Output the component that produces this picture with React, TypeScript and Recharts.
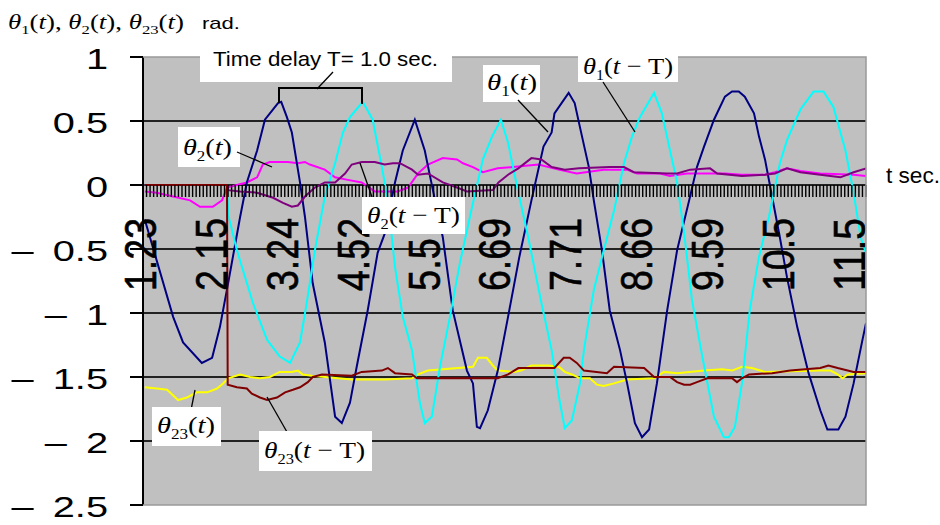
import { LineChart, Line, XAxis, YAxis, CartesianGrid } from "recharts";

// category axis labels (every 20th sample) and y ticks
const timeLabels = ["1.23", "2.15", "3.24", "4.52", "5.5", "6.69", "7.71", "8.66", "9.59", "10.5", "11.5"];
const yTicks = [1, 0.5, 0, -0.5, -1, -1.5, -2, -2.5];
const gridValues = [0.5, 0, -0.5, -1, -1.5, -2];

// [sample index, rad]
const theta1: [number, number][] = [
  [0, -0.27], [8, -1.03], [10.8, -1.23], [16.1, -1.39], [19, -1.35], [21.2, -1.11], [23.5, -0.77], [26.9, -0.25],
  [28.8, 0.02], [31.7, 0.27], [33.9, 0.51], [37.6, 0.64], [38.5, 0.65], [40.1, 0.53], [41.5, 0.41], [43.8, 0.02],
  [45.2, -0.25], [47.4, -0.77], [50.8, -1.23], [53.7, -1.81], [55.6, -1.86], [57.9, -1.7], [59.8, -1.42], [62.9, -0.98],
  [65.7, -0.53], [67.7, -0.38], [70.6, 0.02], [72.8, 0.27], [76.2, 0.51], [79, 0.27], [81.3, -0.04], [84.1, -0.41],
  [86.9, -0.98], [90.9, -1.45], [92.6, -1.55], [93.7, -1.89], [94.6, -1.9], [96.8, -1.76], [99.6, -1.45], [102.5, -1.03],
  [105.7, -0.56], [109.1, -0.12], [112.5, 0.3], [114.8, 0.41], [115.6, 0.56], [119.6, 0.72], [121.3, 0.64], [122.8, 0.45],
  [125.3, 0.14], [126.7, -0.12], [129, -0.51], [131.2, -0.98], [134.1, -1.29], [136.1, -1.55], [138.3, -1.86], [140.3, -1.97],
  [142.3, -1.91], [144.5, -1.55], [147.4, -0.98], [150.2, -0.51], [153.6, -0.12], [155.8, 0.14], [157.8, 0.3], [160.6, 0.51],
  [163.7, 0.69], [165.7, 0.73], [167.6, 0.73], [169.3, 0.69], [171.9, 0.56], [173.3, 0.38], [175, 0.2], [177, -0.09],
  [179.2, -0.41], [181.2, -0.72], [184.1, -1.11], [187.3, -1.47], [190.6, -1.76], [192.6, -1.91], [195.7, -1.91], [197.7, -1.81],
  [200, -1.55], [202.5, -1.21], [203.5, -1.08],
];

const theta1T: [number, number][] = [
  [0, 0], [23.2, 0], [23.6, -0.24], [26, -0.51], [30.5, -0.92], [34.5, -1.21], [38.1, -1.34], [41, -1.39],
  [43.8, -1.23], [45.7, -0.92], [48, -0.51], [50.8, -0.09], [53.7, 0.17], [55.9, 0.41], [57.9, 0.53], [61.5, 0.65],
  [64.3, 0.51], [66.9, 0.14], [68.6, -0.12], [70.6, -0.64], [72.8, -1.03], [75.4, -1.29], [77.6, -1.7], [79, -1.86],
  [81, -1.81], [83.3, -1.42], [86.1, -1.03], [88.9, -0.61], [92.6, -0.14], [95.4, 0.2], [98, 0.38], [100.5, 0.51],
  [102.5, 0.33], [104.8, 0.02], [108.2, -0.41], [111.9, -0.92], [114.8, -1.29], [117, -1.68], [118.5, -1.9], [120.5, -1.84],
  [122.8, -1.55], [123.9, -1.29], [126.7, -0.82], [129.5, -0.51], [132.4, -0.2], [135.2, 0.17], [137.5, 0.38], [139.7, 0.53],
  [143.7, 0.72], [145.9, 0.56], [148.2, 0.27], [150.2, 0.02], [152.2, -0.38], [154.4, -0.9], [157.3, -1.34], [160.6, -1.81],
  [163.4, -1.97], [164.8, -1.97], [166.5, -1.89], [168.5, -1.55], [170.7, -0.98], [173.3, -0.56], [176.1, -0.25], [179.2, 0.17],
  [181.2, 0.35], [185, 0.59], [188.7, 0.73], [191.5, 0.73], [194.3, 0.61], [197.7, 0.27], [200, -0.06], [202, -0.41],
  [203.5, -0.53],
];

const theta2: [number, number][] = [
  [0, -0.05], [3.4, -0.06], [8, -0.09], [12.8, -0.12], [15.6, -0.17], [19.2, -0.17], [21.8, -0.12], [23.2, -0.02],
  [26, 0], [28.8, 0.02], [31.7, 0.06], [33.3, 0.16], [35.3, 0.18], [40.4, 0.18], [43.2, 0.17], [45.2, 0.18],
  [46.6, 0.16], [50.8, 0.12], [53.7, 0.06], [57.3, 0.04], [61.2, 0.02], [64.9, -0.05], [71.4, -0.05], [74.3, -0.02],
  [77.1, 0.09], [79.9, 0.16], [84.1, 0.21], [88.1, 0.2], [89.8, 0.17], [92.6, 0.14], [95.4, 0.1], [99.6, 0.13],
  [111.1, 0.16], [116.8, 0.12], [121.9, 0.09], [129.5, 0.12], [136.1, 0.12], [138.9, 0.09], [145.4, 0.09], [148.2, 0.07],
  [153, 0.09], [163.7, 0.09], [168.5, 0.08], [175, 0.08], [177.8, 0.1], [181.2, 0.13], [185, 0.11], [190.6, 0.09],
  [200, 0.08], [203.5, 0.07],
];

const theta2T: [number, number][] = [
  [0, 0], [23.2, 0], [23.5, -0.04], [26.9, -0.05], [31.7, -0.06], [36.2, -0.1], [39, -0.14], [41.5, -0.17],
  [43.2, -0.16], [45.2, -0.09], [48, -0.02], [50.8, 0.02], [53.7, 0.02], [56.5, 0.09], [58.4, 0.16], [61.2, 0.18],
  [64.9, 0.18], [67.7, 0.16], [70, 0.17], [72, 0.17], [75.4, 0.12], [77.1, 0.08], [79.9, 0.09], [84.1, 0.02],
  [88.1, -0.02], [90.9, -0.05], [98.2, -0.04], [99.8, 0.02], [102.5, 0.08], [105.4, 0.13], [109.1, 0.21], [111.9, 0.2],
  [114.8, 0.14], [118.5, 0.12], [122.5, 0.13], [131.2, 0.14], [135.2, 0.14], [138, 0.1], [147.4, 0.09], [150.2, 0.09],
  [153.9, 0.12], [159.5, 0.13], [161.5, 0.09], [168.5, 0.07], [175, 0.08], [177.8, 0.09], [181.2, 0.13], [185, 0.1],
  [190.6, 0.08], [196.3, 0.06], [200, 0.1], [203.5, 0.13],
];

const theta23: [number, number][] = [
  [0, -1.58], [3.4, -1.59], [6.3, -1.6], [9.4, -1.68], [11.9, -1.66], [14.7, -1.62], [17.6, -1.62], [20.4, -1.59],
  [22.1, -1.55], [23.5, -1.51], [26.9, -1.48], [29.7, -1.5], [32.5, -1.51], [35.3, -1.5], [38.1, -1.46], [41.5, -1.46],
  [43.2, -1.45], [44.6, -1.48], [47.1, -1.49], [58.4, -1.52], [67.7, -1.52], [75.4, -1.51], [77.1, -1.48], [79.9, -1.45],
  [92.6, -1.42], [94, -1.35], [96.5, -1.35], [98.2, -1.41], [99.6, -1.45], [104.2, -1.46], [106.2, -1.45], [109.1, -1.41],
  [113.9, -1.41], [116.8, -1.42], [118.5, -1.46], [120.5, -1.48], [122.8, -1.51], [125.6, -1.51], [127.6, -1.56], [129.5, -1.57],
  [132.4, -1.55], [136.1, -1.52], [143.7, -1.51], [146.5, -1.46], [150.2, -1.47], [157.8, -1.45], [162.9, -1.44], [165.7, -1.45],
  [168.5, -1.42], [171.3, -1.43], [175, -1.46], [190.6, -1.45], [193.5, -1.45], [195.5, -1.48], [196.9, -1.51], [198.3, -1.48],
  [203.5, -1.47],
];

const theta23T: [number, number][] = [
  [0, 0], [23.2, 0], [23.4, -1.56], [26, -1.58], [28.8, -1.59], [30.2, -1.63], [32.5, -1.66], [34.5, -1.68],
  [37.3, -1.66], [39.6, -1.62], [41.8, -1.6], [43.8, -1.58], [46, -1.54], [47.4, -1.5], [50, -1.48], [58.4, -1.49],
  [61.2, -1.46], [66.9, -1.45], [68.6, -1.43], [70.6, -1.47], [75.4, -1.48], [76.8, -1.51], [99.6, -1.51], [102.5, -1.48],
  [105.4, -1.43], [115.6, -1.43], [118.2, -1.35], [119.9, -1.35], [121.9, -1.39], [123.9, -1.45], [130.4, -1.47], [132.4, -1.42],
  [140.9, -1.43], [143.7, -1.5], [148.2, -1.5], [150.2, -1.54], [152.2, -1.56], [153.9, -1.56], [155.8, -1.54], [158.7, -1.51],
  [165.7, -1.51], [167.1, -1.54], [168.5, -1.51], [170.5, -1.48], [177, -1.47], [182.1, -1.45], [190.6, -1.43], [192.9, -1.41],
  [195.5, -1.43], [200, -1.46], [203.5, -1.46],
];

const toPts = (a: [number, number][]) => a.map(([i, v]) => ({ i, v }));

const N = 204;
const ZERO_Y = 185;
const boundaries = Array.from({ length: N + 1 }, (_, k) => k - 0.5);
const SANS = "Liberation Sans, Arial, sans-serif";
const SERIF = "Liberation Serif, Times New Roman, serif";

function XTick(props: any) {
  const { x, payload } = props;
  const c = payload.value + 0.5;
  const k = c / 20;
  const label = Number.isInteger(k) ? timeLabels[k] : undefined;
  return (
    <g>
      <line x1={x} x2={x} y1={ZERO_Y} y2={ZERO_Y + 12} stroke="#000" strokeWidth={1.4} />
      {label && (
        <text
          transform={`translate(${x + 13}, 291) rotate(-90)`}
          textAnchor="start"
          fontFamily={SANS}
          fontSize={44}
          textLength={label.length === 3 ? 53 : 73}
          lengthAdjust="spacingAndGlyphs"
          stroke="#000"
          strokeWidth={0.6}
          fill="#000"
        >
          {label}
        </text>
      )}
    </g>
  );
}

function YTick(props: any) {
  const { y, payload } = props;
  const v = payload.value as number;
  const s = String(Math.abs(v));
  const w = s.split("").reduce((acc, ch) => acc + (ch === "." ? 8.06 : 16.12), 0);
  return (
    <g transform={`translate(108 ${y + 12}) scale(1.37 1)`}>
      <text x={0} textAnchor="end" fontFamily={SANS} fontSize={29} fill="#000">
        {s}
      </text>
      {v < 0 && (
        <text x={-w - 14} textAnchor="end" fontFamily={SANS} fontSize={29} fill="#000">
          –
        </text>
      )}
    </g>
  );
}

function Theta({ x, y, sub, delayed, len, size = 24 }: any) {
  return (
    <text x={x} y={y} fontFamily={SERIF} fontSize={size} fill="#000" textLength={len} lengthAdjust="spacingAndGlyphs">
      <tspan fontStyle="italic">θ</tspan>
      <tspan fontSize={size * 0.6} dy={size * 0.25}>{sub}</tspan>
      <tspan dy={-size * 0.25}>(</tspan>
      <tspan fontStyle="italic">t</tspan>
      {delayed ? <tspan> − T)</tspan> : <tspan>)</tspan>}
    </text>
  );
}

function Box({ x, y, w, h }: any) {
  return <rect x={x} y={y} width={w} height={h} fill="#fff" />;
}

export default function App() {
  return (
    <div style={{ position: "absolute", left: 0, top: 0, width: 940, height: 525, background: "#fff" }}>
      <LineChart width={940} height={525} margin={{ top: 57, right: 74, bottom: 19, left: 0 }}>
        <CartesianGrid horizontalValues={gridValues} vertical={false} fill="#c0c0c0" stroke="#222" strokeWidth={2} />
        <XAxis
          dataKey="i"
          type="number"
          domain={[-0.5, N - 0.5]}
          allowDataOverflow
          ticks={boundaries}
          interval={0}
          height={1}
          axisLine={false}
          tickLine={false}
          tick={<XTick />}
          zIndex={50}
        />
        <YAxis
          type="number"
          domain={[-2.5, 1]}
          ticks={yTicks}
          interval={0}
          width={143}
          axisLine={{ stroke: "#000", strokeWidth: 2 }}
          tickLine={{ stroke: "#000", strokeWidth: 2 }}
          tickSize={13}
          tick={<YTick />}
        />
        <Line data={toPts(theta23)} dataKey="v" stroke="#ffff00" strokeWidth={2} dot={false} isAnimationActive={false} />
        <Line data={toPts(theta2)} dataKey="v" stroke="#ff00ff" strokeWidth={2} dot={false} isAnimationActive={false} />
        <Line data={toPts(theta1)} dataKey="v" stroke="#000080" strokeWidth={2} dot={false} isAnimationActive={false} />
        <Line data={toPts(theta1T)} dataKey="v" stroke="#00ffff" strokeWidth={2} dot={false} isAnimationActive={false} />
        <Line data={toPts(theta2T)} dataKey="v" stroke="#800080" strokeWidth={2} dot={false} isAnimationActive={false} />
        <Line data={toPts(theta23T)} dataKey="v" stroke="#800000" strokeWidth={2} dot={false} isAnimationActive={false} />
      </LineChart>

      <svg width={940} height={525} style={{ position: "absolute", left: 0, top: 0, pointerEvents: "none" }}>
        <polyline points="143,57 866,57 866,505 143,505" fill="none" stroke="#999" strokeWidth={1.5} />

        <text x={8} y={29} fontFamily={SERIF} fontSize={21} fill="#000" textLength={176} lengthAdjust="spacingAndGlyphs">
          <tspan fontStyle="italic">θ</tspan>
          <tspan fontSize={13} dy={5}>1</tspan>
          <tspan dy={-5}>(</tspan>
          <tspan fontStyle="italic">t</tspan>
          <tspan>), </tspan>
          <tspan fontStyle="italic">θ</tspan>
          <tspan fontSize={13} dy={5}>2</tspan>
          <tspan dy={-5}>(</tspan>
          <tspan fontStyle="italic">t</tspan>
          <tspan>), </tspan>
          <tspan fontStyle="italic">θ</tspan>
          <tspan fontSize={13} dy={5}>23</tspan>
          <tspan dy={-5}>(</tspan>
          <tspan fontStyle="italic">t</tspan>
          <tspan>)</tspan>
        </text>
        <text x={202} y={29} fontFamily={SANS} fontSize={17} fill="#000" textLength={38} lengthAdjust="spacingAndGlyphs">
          rad.
        </text>

        <Box x={200} y={38} w={252} h={44} />
        <text x={213} y={66} fontFamily={SANS} fontSize={21} fill="#000" textLength={225} lengthAdjust="spacingAndGlyphs">
          Time delay T= 1.0 sec.
        </text>
        <line x1={333} y1={72} x2={317} y2={89} stroke="#000" strokeWidth={1.3} />
        <polyline points="279,103 279,88 362,88 362,104" fill="none" stroke="#000" strokeWidth={2} />

        <Box x={483} y={65} w={57} h={37} />
        <Theta x={487} y={90} sub="1" len={50} />
        <line x1={518} y1={100} x2={548} y2={132} stroke="#000" strokeWidth={1.3} />

        <Box x={578} y={40} w={100} h={42} />
        <Theta x={583} y={74} sub="1" delayed len={90} />
        <line x1={603} y1={82} x2={635} y2={132} stroke="#000" strokeWidth={1.3} />

        <Box x={178} y={127} w={62} h={40} />
        <Theta x={183} y={155} sub="2" len={49} />
        <line x1={237} y1={152} x2={272} y2={167} stroke="#000" strokeWidth={1.3} />

        <line x1={360} y1={163} x2={372} y2={197} stroke="#000" strokeWidth={1.3} />
        <Box x={362} y={197} w={103} h={37} />
        <Theta x={367} y={223} sub="2" delayed len={93} />

        <line x1={195} y1={390} x2={191} y2={410} stroke="#000" strokeWidth={1.3} />
        <Box x={152} y={407} w={69} h={39} />
        <Theta x={157} y={433} sub="23" len={58} />

        <line x1={267} y1={397} x2={287} y2={432} stroke="#000" strokeWidth={1.3} />
        <Box x={259} y={431} w={113} h={40} />
        <Theta x={264} y={458} sub="23" delayed len={101} />

        <text x={886} y={183} fontFamily={SANS} fontSize={22} fill="#000" textLength={54} lengthAdjust="spacingAndGlyphs">
          t sec.
        </text>
      </svg>
    </div>
  );
}
